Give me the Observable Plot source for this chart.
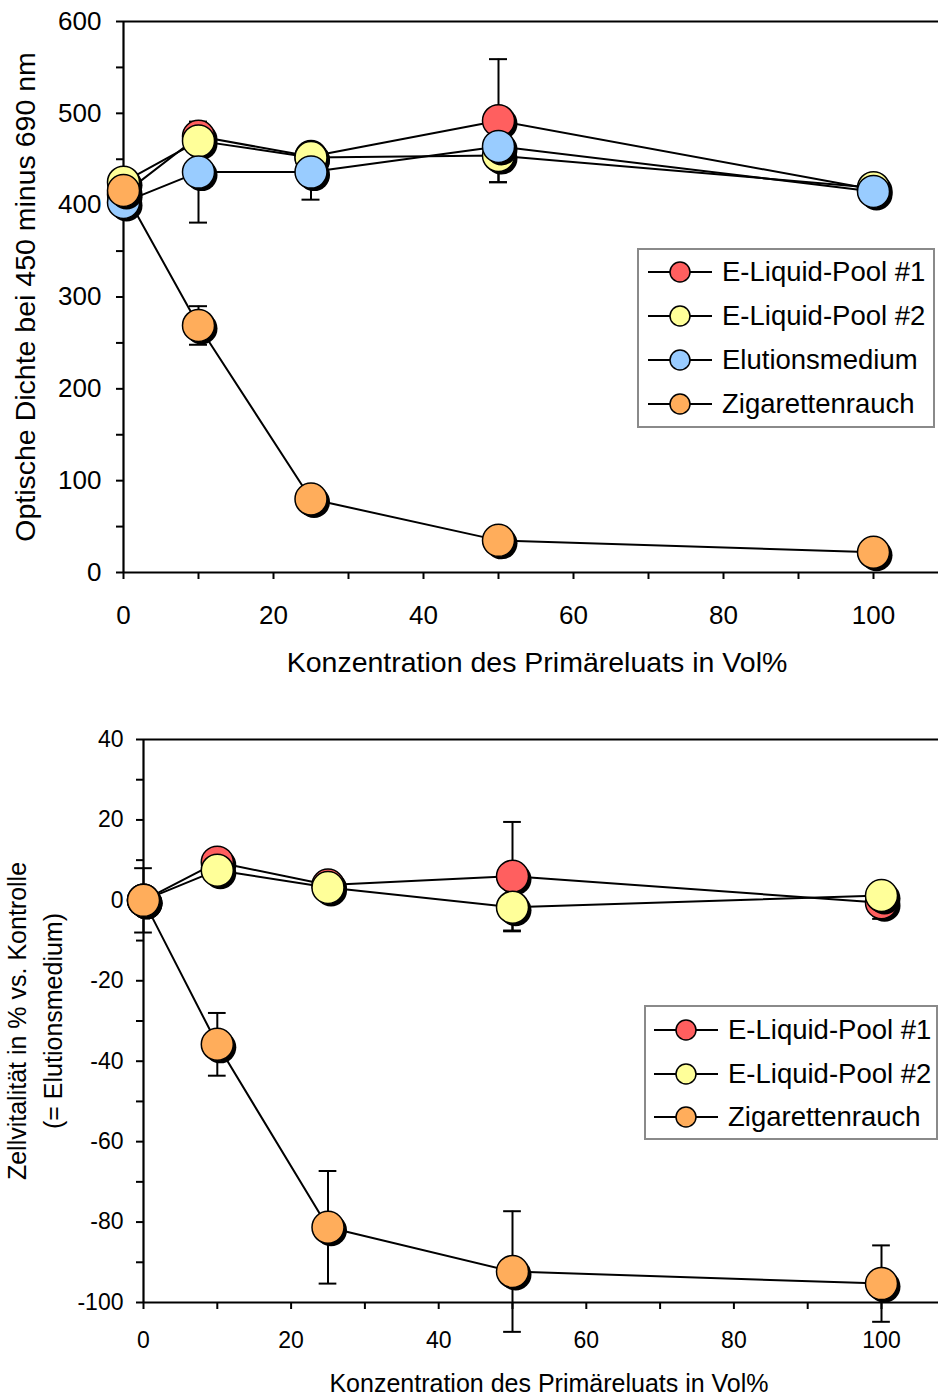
<!DOCTYPE html>
<html>
<head>
<meta charset="utf-8">
<script src="https://cdn.jsdelivr.net/npm/d3@7"></script>
<script src="https://cdn.jsdelivr.net/npm/@observablehq/plot@0.6"></script>
<style>
  html, body { margin: 0; padding: 0; background: #fff; }
  #wrap { position: relative; width: 938px; height: 1396px; overflow: hidden; font-family: "Liberation Sans", Arial, sans-serif; }
  .chart { position: absolute; left: 0; }
  .legend { position: absolute; border: 2px solid #8a8a8a; background: #fff; box-sizing: border-box; }
  .legend .row { position: absolute; left: 0; height: 44px; display: flex; align-items: center; white-space: nowrap; color: #000; }
  .legend svg { display: block; }
</style>
</head>
<body>
<div id="wrap"></div>
<script>
// ---------- data ----------
const concentrations = [0, 10, 25, 50, 100];

const seriesNames = ["E-Liquid-Pool #1", "E-Liquid-Pool #2", "Elutionsmedium", "Zigarettenrauch"];
const seriesColors = ["#ff5f5f", "#ffff99", "#99ccff", "#ffad5b"];

// Top chart: optical density (450 minus 690 nm)
const odPool1 = [412, 475, 453, 492, 417];
const odPool1Err = [4, 10, 8, 67, 5];
const odPool2 = [425, 470, 452, 454, 419];
const odPool2Err = [5, 10, 8, 10, 5];
const odMedium = [403, 436, 436, 464, 415];
const odMediumErr = [5, 55, 30, 39, 5];
const odSmoke = [416, 269, 80, 35, 22];
const odSmokeErr = [5, 21, 5, 5, 4];

// Bottom chart: cell viability in % vs. control
const vitPool1 = [0, 9.5, 3.8, 6, -0.6];
const vitPool1Err = [0, 2, 2, 13.5, 4];
const vitPool2 = [0, 7.5, 3.2, -1.7, 1.2];
const vitPool2Err = [0, 2, 2, 6, 2];
const vitSmoke = [0, -35.8, -81.3, -92.3, -95.3];
const vitSmokeErr = [8, 7.8, 14, 15, 9.5];

const topXTicks = d3.range(0, 101, 10);
const topYTicks = d3.range(0, 601, 50);
const botXTicks = d3.range(0, 101, 10);
const botYTicks = d3.range(-100, 41, 10);

const topXLabel = "Konzentration des Primäreluats in Vol%";
const topYLabel = "Optische Dichte bei 450 minus 690 nm";
const botXLabel = "Konzentration des Primäreluats in Vol%";
const botYLabel = "Zellvitalität in % vs. Kontrolle\n(= Elutionsmedium)";

// ---------- helpers ----------
function build(values, errs, idx) {
  return concentrations.map((c, i) => ({conc: c, v: values[i], e: errs[i], s: idx}));
}
const topSeries = [
  build(odPool1, odPool1Err, 0),
  build(odPool2, odPool2Err, 1),
  build(odMedium, odMediumErr, 2),
  build(odSmoke, odSmokeErr, 3)
];
const botSeries = [
  build(vitPool1, vitPool1Err, 0),
  build(vitPool2, vitPool2Err, 1),
  build(vitSmoke, vitSmokeErr, 3)
];

const FONT = '"Liberation Sans", Arial, sans-serif';

function chart({series, width, height, mt, mb, ml, xmax, ydomain, yTop, xTicks, yTicks, xFmt, yFmt,
                tickFont, xPad, yPad, capHalf, xLabel, yLabel, xLabelDx, xLabelDy, yLabelDx, labelFont, lineHeight}) {
  const all = series.flat();
  const marks = [
    Plot.axisX({ticks: xTicks, tickFormat: xFmt, tickSize: 7, tickPadding: xPad, strokeWidth: 2, fontSize: tickFont, label: null}),
    Plot.axisY({ticks: yTicks, tickFormat: yFmt, tickSize: 7, tickPadding: yPad, strokeWidth: 2, fontSize: tickFont, label: null}),
    Plot.ruleY([ydomain[0]], {stroke: "black", strokeWidth: 2.2}),
    Plot.ruleY([yTop], {stroke: "black", strokeWidth: 2.2}),
    Plot.ruleX([0], {stroke: "black", strokeWidth: 2.2}),
    Plot.text([xLabel], {frameAnchor: "bottom", text: d => d, dx: xLabelDx, dy: xLabelDy, fontSize: labelFont, textAnchor: "middle", lineAnchor: "middle", fill: "black"}),
    Plot.text([yLabel], {frameAnchor: "left", text: d => d, dx: yLabelDx, rotate: -90, fontSize: labelFont, textAnchor: "middle", lineAnchor: "middle", lineHeight: lineHeight, fill: "black"})
  ];
  for (const s of series) {
    marks.push(Plot.line(s, {x: "conc", y: "v", stroke: "black", strokeWidth: 2}));
  }
  const withErr = all.filter(d => d.e > 0);
  marks.push(Plot.ruleX(withErr, {x: "conc", y1: d => d.v - d.e, y2: d => d.v + d.e, stroke: "black", strokeWidth: 2}));
  marks.push(Plot.ruleY(withErr, {y: d => d.v + d.e, x1: d => d.conc - capHalf, x2: d => d.conc + capHalf, stroke: "black", strokeWidth: 2}));
  marks.push(Plot.ruleY(withErr, {y: d => d.v - d.e, x1: d => d.conc - capHalf, x2: d => d.conc + capHalf, stroke: "black", strokeWidth: 2}));
  for (const s of series) {
    marks.push(Plot.dot(s, {x: "conc", y: "v", r: 16, fill: "black", dx: 3, dy: 3}));
    marks.push(Plot.dot(s, {x: "conc", y: "v", r: 16, fill: d => seriesColors[d.s], stroke: "black", strokeWidth: 1.5}));
  }
  return Plot.plot({
    width, height,
    marginTop: mt, marginBottom: mb, marginLeft: ml, marginRight: 0,
    x: {domain: [0, xmax]},
    y: {domain: ydomain},
    style: {fontFamily: FONT, color: "black", background: "white", overflow: "visible"},
    marks
  });
}

const wrap = document.getElementById("wrap");

const topChart = chart({
  series: topSeries, width: 938, height: 690, mt: 21, mb: 118, ml: 123,
  xmax: 815 / 7.5, ydomain: [0, 600], yTop: 600,
  xTicks: topXTicks, yTicks: topYTicks,
  xFmt: d => d % 20 === 0 ? d : "", yFmt: d => d % 100 === 0 ? d : "",
  tickFont: 26, xPad: 26, yPad: 15, capHalf: 1.2,
  xLabel: topXLabel, yLabel: topYLabel, xLabelDx: 6, xLabelDy: 90, yLabelDx: -98,
  labelFont: 28.5, lineHeight: 1
});
topChart.classList.add("chart");
topChart.style.top = "0px";
wrap.appendChild(topChart);

const botChart = chart({
  series: botSeries, width: 938, height: 696, mt: 39, mb: 94, ml: 143,
  xmax: 795 / 7.38, ydomain: [-100, 40], yTop: 40,
  xTicks: botXTicks, yTicks: botYTicks,
  xFmt: d => d % 20 === 0 ? d : "", yFmt: d => d % 20 === 0 ? d : "",
  tickFont: 23, xPad: 22, yPad: 13, capHalf: 1.2,
  xLabel: botXLabel, yLabel: botYLabel, xLabelDx: 8, xLabelDy: 81, yLabelDx: -111,
  labelFont: 25, lineHeight: 1.44
});
botChart.classList.add("chart");
botChart.style.top = "700px";
wrap.appendChild(botChart);

// ---------- legends ----------
function legend({left, top, width, height, rows, rowTops, lineX0, fontSize}) {
  const box = document.createElement("div");
  box.className = "legend";
  Object.assign(box.style, {left: left + "px", top: top + "px", width: width + "px", height: height + "px"});
  rows.forEach((idx, i) => {
    const row = document.createElement("div");
    row.className = "row";
    row.style.top = (rowTops[i] - top - 2 - 22) + "px";
    row.style.left = (lineX0 - left - 2) + "px";
    row.innerHTML = `<svg width="74" height="44"><line x1="0" y1="22" x2="64" y2="22" stroke="black" stroke-width="2"/>` +
      `<circle cx="32" cy="22" r="10" fill="${seriesColors[idx]}" stroke="black" stroke-width="1.5"/></svg>` +
      `<span style="font-size:${fontSize}px;font-family:'Liberation Sans', Arial, sans-serif">${seriesNames[idx]}</span>`;
    box.appendChild(row);
  });
  wrap.appendChild(box);
}

legend({left: 637, top: 248, width: 298, height: 180, rows: [0, 1, 2, 3], rowTops: [272, 316, 360, 404], lineX0: 648, fontSize: 27.5});
legend({left: 644, top: 1005, width: 294, height: 135, rows: [0, 1, 3], rowTops: [1030, 1074, 1117], lineX0: 654, fontSize: 27.5});
</script>
</body>
</html>
